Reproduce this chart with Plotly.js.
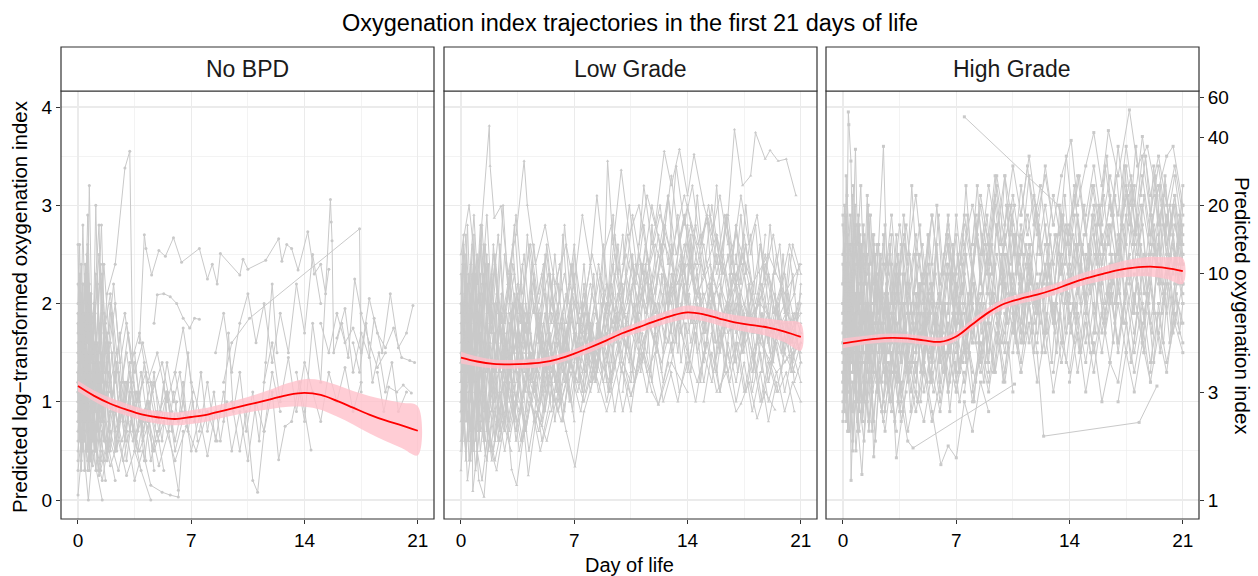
<!DOCTYPE html>
<html><head><meta charset="utf-8">
<script src="https://cdn.plot.ly/plotly-3.0.1.min.js"></script>
<style>html,body{margin:0;padding:0;background:#fff}#chart{width:1258px;height:576px}</style>
</head><body><div id="chart"></div>
<script>
const panelNames = ["No BPD", "Low Grade", "High Grade"];
const xTicks = [0, 7, 14, 21];
const yTicksLog = [0, 1, 2, 3, 4];
const yTicksOI = [1, 3, 10, 20, 40, 60];
const days = [0,1,2,3,4,5,6,7,8,9,10,11,12,13,14,15,16,17,18,19,20,21];

// fitted mean and confidence band (log-transformed OI)
const fitNoBPD = [1.16,1.06,0.98,0.92,0.87,0.84,0.825,0.845,0.87,0.91,0.95,0.99,1.03,1.07,1.09,1.07,1.01,0.94,0.87,0.81,0.76,0.705];
const loNoBPD  = [1.105,1.005,0.92,0.86,0.81,0.775,0.76,0.775,0.80,0.84,0.875,0.905,0.93,0.95,0.95,0.92,0.85,0.77,0.68,0.60,0.53,0.455];
const hiNoBPD  = [1.215,1.115,1.04,0.98,0.93,0.905,0.89,0.915,0.94,0.98,1.025,1.075,1.13,1.19,1.23,1.22,1.17,1.11,1.06,1.02,0.99,0.955];
const fitLow = [1.45,1.41,1.385,1.38,1.385,1.40,1.435,1.49,1.555,1.625,1.70,1.76,1.82,1.875,1.91,1.89,1.845,1.805,1.78,1.755,1.715,1.66];
const loLow  = [1.39,1.36,1.34,1.335,1.34,1.355,1.39,1.445,1.505,1.575,1.65,1.705,1.76,1.81,1.84,1.82,1.775,1.73,1.70,1.665,1.605,1.52];
const hiLow  = [1.51,1.46,1.43,1.425,1.43,1.445,1.48,1.535,1.605,1.675,1.75,1.815,1.88,1.94,1.98,1.96,1.915,1.88,1.86,1.845,1.825,1.80];
const fitHigh = [1.595,1.62,1.64,1.65,1.645,1.625,1.61,1.665,1.79,1.91,2.0,2.05,2.09,2.14,2.20,2.255,2.30,2.34,2.365,2.375,2.36,2.33];
const loHigh  = [1.545,1.575,1.595,1.605,1.60,1.58,1.565,1.62,1.74,1.86,1.95,2.0,2.035,2.085,2.14,2.19,2.23,2.26,2.275,2.275,2.25,2.20];
const hiHigh  = [1.645,1.665,1.685,1.695,1.69,1.67,1.655,1.71,1.84,1.96,2.05,2.10,2.145,2.195,2.26,2.32,2.37,2.42,2.455,2.475,2.47,2.46];

// individual trajectories: [day, value, day, value, ...]
const trajNoBPD = [
[0,1.3,0.25,2.0,0.5,1.1,0.7,3.2,0.9,1.5,1.2,2.2,1.5,1.0,1.8,1.4,2.2,0.8,2.6,1.1,3.0,0.6],
[0,0.9,0.2,1.6,0.4,0.7,0.6,2.6,0.8,1.2,1.0,0.5,1.3,0.9,1.6,0.4,2.0,0.7],
[0,2.6,0.15,1.4,0.3,2.2,0.5,0.9,0.75,1.8,1.0,1.1,1.4,2.4,1.7,1.3,2.1,1.9,2.5,1.0,3.0,1.5,3.5,0.9,4.0,1.2],
[0,0.5,0.3,1.0,0.6,0.3,0.9,0.8,1.2,0.4,1.5,0.2,1.9,0.6],
[0,1.8,0.2,1.0,0.45,2.4,0.7,1.6,1.0,2.0,1.3,2.8,1.5,1.4,1.8,2.1,2.3,2.4,2.9,3.38,3.2,3.55,3.4,1.2,3.8,0.8,4.3,1.0],
[0,1.1,0.25,0.6,0.5,1.3,0.75,0.4,1.0,0.9,1.25,0.3,1.5,0.7,2.0,0.35,2.5,0.6,3.0,0.25,3.5,0.5,4.5,0.0],
[0,0.05,0.3,0.6,0.64,0.0,0.9,0.5,1.5,0.0],
[3.8,1.6,4.1,2.7,4.2,2.56,4.55,2.29,5.0,2.54,5.4,2.48,5.9,2.67,6.4,2.42,7.5,2.56,8.0,2.25,8.3,2.4,8.6,2.2,8.8,2.51,10.0,2.29,10.2,2.45,10.5,2.35,11.6,2.44,12.4,2.66,12.6,2.43,12.9,2.6,13.2,2.56,13.6,2.34,14.2,2.73,14.6,2.3,15.0,2.4,15.3,2.1,15.5,2.35],
[9.0,1.2,9.5,1.6,10.6,1.85,17.4,2.76,17.5,1.1],
[13.5,1.3,14.0,0.8,14.5,1.8,15.0,1.2,15.6,3.06,15.65,2.83,15.7,2.64,15.8,1.5,16.3,1.8,16.7,1.45,17.1,2.25,17.5,1.9,18.0,1.6,18.5,1.35,19.0,1.5],
[15.0,1.8,15.5,1.5,16.0,1.9,16.5,1.6,17.0,1.75,17.5,1.5,18.0,2.05,18.5,1.7,19.0,1.55,19.5,1.75,20.0,1.45,20.5,1.42,20.8,1.4],
[16.0,1.65,16.5,1.95,17.0,1.3,17.5,1.7,18.0,1.45,18.3,1.85,18.8,1.5,19.3,2.1,19.8,1.55,20.3,1.7,20.7,1.98],
[18.5,1.3,18.9,0.9,19.2,1.15,19.7,1.1,20.1,1.17,20.6,1.09],
[9.5,1.0,10.0,0.5,10.4,0.9,10.8,0.2,11.1,0.08,11.5,0.7,12.0,1.1,12.4,0.41,12.8,0.75,13.2,0.8,13.7,1.2,14.0,0.9,14.4,0.51],
[0,1.5,0.2,0.8,0.4,1.9,0.6,1.2,0.8,2.1,1.0,0.7,1.2,1.6,1.4,1.0,1.7,1.8,2.0,1.2,2.4,1.5,2.8,0.9,3.2,1.3,3.7,0.7,4.3,1.0,5.0,0.6],
[0,1.0,0.2,1.7,0.4,1.2,0.6,2.3,0.8,0.9,1.0,1.4,1.3,0.6,1.6,1.1,1.9,0.5,2.3,0.9,2.8,0.4,3.3,0.8,3.9,0.3],
[0,2.2,0.3,1.6,0.6,2.0,0.9,1.3,1.1,3.0,1.3,1.5,1.6,2.4,1.9,1.7,2.2,2.2,2.6,1.4,3.0,1.8,3.5,1.3,4.0,1.6,4.6,1.1,5.2,1.4,5.8,0.9],
[0,0.7,0.25,1.2,0.5,0.5,0.8,1.0,1.1,0.3,1.4,0.8,1.8,0.5,2.2,1.0,2.7,0.6,3.2,0.9,3.8,0.5,4.4,0.8,5.0,0.35,5.6,0.7,6.2,0.1],
[0.5,1.2,0.8,2.0,1.1,1.4,1.45,2.8,1.6,1.9,1.9,1.5,2.3,2.0,2.7,1.2,3.1,1.7,3.6,1.0,4.2,1.3,4.8,0.8,5.5,1.1,6.0,0.5,6.6,0.9],
[0,1.2,0.3,0.9,0.6,1.5,0.9,0.6,1.2,1.2,1.5,0.8,1.9,1.3,2.3,0.7,2.8,1.0,3.4,0.6,4.0,0.9,4.7,0.5,5.3,0.8,6.0,0.4,6.7,0.75,7.3,0.5,8.0,0.9,8.6,0.6],
[1.0,1.8,1.3,2.5,1.6,1.7,2.0,2.1,2.4,1.5,2.9,1.9,3.3,1.4,3.8,1.7,4.3,1.2,4.9,1.5,5.5,1.0,6.0,1.3,6.5,1.75,7.0,1.2,7.5,0.9],
[4.7,1.8,4.9,2.09,5.3,2.1,5.7,2.07,6.1,2.0,6.5,1.85,6.9,1.75,7.2,1.85,7.5,1.84],
[7.5,0.7,8.0,1.2,8.5,0.6,9.0,1.1,9.5,0.5,10.0,0.9,10.5,0.4,11.0,1.0,11.5,0.7,12.0,1.3,12.5,0.9],
[8.5,1.5,9.0,1.9,9.5,1.3,10.0,1.8,10.5,2.1,11.0,1.6,11.5,2.0,12.0,1.4,12.5,1.9,13.0,1.5,13.5,2.2,14.0,1.7,14.5,2.5,15.0,2.0],
[2.0,0.6,2.5,0.3,3.0,0.7,3.5,0.2,4.0,0.5,4.5,0.15,5.2,0.08,5.7,0.05,6.2,0.03,6.5,0.7],
[3.0,0.9,3.5,1.4,4.0,0.8,4.5,1.2,5.0,0.7,5.5,1.1,6.0,0.6,6.5,1.0,7.0,0.5,7.5,0.85,8.0,0.45,8.5,0.9],
[0,1.4,0.2,2.1,0.35,1.1,0.55,2.5,0.75,1.3,1.0,1.9,1.25,1.2,1.5,2.3,1.75,1.5,2.0,2.0,2.3,1.3],
[0,0.8,0.15,1.3,0.3,0.6,0.5,1.1,0.7,0.3,0.9,0.9,1.15,0.5,1.4,1.0,1.7,0.6,2.0,0.9],
[0,1.7,0.2,2.4,0.4,1.5,0.6,2.9,0.75,1.9,0.9,1.4,1.1,2.3,1.4,1.6],
[0.1,1.0,0.3,2.8,0.5,1.5,0.7,2.2],
[11.5,1.2,12.0,1.6,12.5,1.0,13.0,1.45,13.5,0.9,14.0,1.4,14.5,1.1,15.0,0.8,15.5,1.3,16.0,1.0,16.5,1.35,17.0,0.9,17.5,1.2],
[17.0,1.6,17.4,1.3,17.8,1.8,18.2,1.2,18.6,1.5,19.0,1.1,19.4,1.4,19.8,0.9,20.3,1.1],
[9.0,0.8,9.3,1.7,9.6,0.9,10.0,1.3,10.4,0.7,10.8,1.1,11.2,0.6,11.6,1.4,12.0,2.2,12.3,1.5],
[6.0,1.3,6.4,0.9,6.8,1.5,7.2,0.8,7.6,1.3,8.0,0.7,8.4,1.1,8.8,0.6,9.2,1.0],
[0,0.3,0.3,0.8,0.6,0.4,1.0,0.7,1.4,0.3,1.8,0.6,2.3,0.2],
[0,1.0,0.05,1.6,0.1,0.7,0.15,1.3,0.2,0.5,0.3,1.1,0.4,0.6,0.5,1.5,0.6,0.9,0.7,1.4,0.8,0.6,0.95,1.1,1.1,0.7,1.25,1.2,1.4,0.8,1.6,1.3],
[0,1.9,0.05,1.2,0.1,2.3,0.2,1.4,0.3,2.0,0.4,1.0,0.5,1.7,0.65,1.2,0.8,1.9,0.95,1.3,1.1,1.7,1.3,0.9,1.5,1.4,1.7,1.0,1.9,1.5,2.1,1.1],
[0,0.6,0.1,1.2,0.2,0.4,0.3,0.9,0.4,0.3,0.55,0.8,0.7,0.5,0.85,1.1,1.0,0.6,1.2,0.9,1.4,0.5,1.6,0.8,1.8,0.4,2.0,0.7,2.3,0.5,2.6,0.9],
[0,1.3,0.05,0.8,0.1,1.7,0.2,1.1,0.3,1.5,0.4,0.8,0.5,1.3,0.6,0.7,0.7,1.2,0.85,0.9,1.0,1.6,1.15,1.0,1.3,1.4,1.5,0.9,1.7,1.2,1.9,0.8,2.2,1.1,2.5,0.7,2.8,1.0],
[0,2.0,0.1,2.6,0.2,1.7,0.3,2.2,0.4,1.5,0.5,2.4,0.6,1.8,0.75,2.1,0.9,1.5,1.05,2.0,1.2,1.4,1.4,1.8,1.6,1.3,1.8,1.7],
[0,0.4,0.1,0.9,0.2,0.3,0.3,0.7,0.45,1.0,0.6,0.5,0.75,0.8,0.9,0.35,1.1,0.6,1.3,0.25,1.5,0.5,1.7,0.2],
[0,1.6,0.1,1.0,0.2,1.9,0.3,1.3,0.4,1.7,0.55,1.1,0.7,1.6,0.85,1.0,1.0,1.4,1.2,0.9,1.4,1.3,1.6,0.8,1.8,1.2,2.0,0.9,2.3,1.3,2.6,0.8,2.9,1.2,3.2,0.7,3.5,1.1],
[0.5,0.9,0.7,1.5,0.9,1.0,1.1,1.6,1.3,1.1,1.5,1.9,1.7,1.2,1.9,1.6,2.1,1.0,2.4,1.4,2.7,0.9,3.0,1.2,3.3,0.8,3.6,1.1,4.0,0.7,4.4,1.0,4.8,0.6],
[1.5,1.1,1.8,0.6,2.1,1.0,2.4,0.5,2.7,0.9,3.0,0.4,3.3,0.8,3.7,0.5,4.1,0.9,4.5,0.4,4.9,0.7,5.3,0.3],
[2.0,1.6,2.3,1.2,2.6,1.7,2.9,1.0,3.2,1.4,3.5,0.9,3.9,1.3,4.3,0.8,4.7,1.2,5.1,0.9,5.5,1.4,5.9,1.0,6.3,1.3,6.7,0.8,7.1,1.1],
[0,1.1,0.05,1.8,0.1,1.2,0.15,2.0,0.25,1.3,0.35,1.8,0.45,1.0,0.6,1.4,0.75,0.8,0.9,1.3,1.05,0.9,1.2,1.5],
[0,0.8,0.05,1.4,0.1,0.6,0.2,1.0,0.3,0.5,0.4,1.2,0.5,0.7,0.6,1.0,0.75,0.4,0.9,0.8,1.05,0.5,1.2,0.9,1.4,0.6],
[1.0,1.3,1.2,0.7,1.4,1.2,1.6,0.6,1.8,1.1,2.0,0.5,2.2,0.9,2.4,0.6,2.7,1.2,3.0,0.7,3.3,1.1,3.6,0.6,3.9,0.9,4.2,0.4],
[0,1.2,0.1,2.0,0.2,1.4,0.3,1.8,0.4,1.1,0.5,1.6,0.6,1.0,0.7,1.7,0.8,1.2,0.9,1.5,1.0,0.8,1.15,1.3,1.3,0.9,1.45,1.5,1.6,1.1],
[2.5,1.3,2.8,0.8,3.1,1.2,3.4,0.7,3.7,1.1,4.0,0.6,4.3,1.0,4.6,0.5,4.9,0.9,5.2,0.6,5.5,1.1,5.8,0.7,6.1,1.0],
[0,0.9,0.1,1.5,0.2,0.8,0.3,1.2,0.4,0.6,0.5,1.0,0.6,0.5,0.7,0.9,0.8,0.4,0.95,0.8,1.1,0.5,1.25,0.9,1.4,0.4],
[0.3,1.7,0.45,2.3,0.6,1.6,0.75,2.0,0.9,1.4,1.05,1.9,1.2,1.3,1.35,1.7,1.5,1.2,1.7,1.6,1.9,1.1,2.1,1.5,2.3,1.0],
[3.5,1.5,3.8,1.0,4.1,1.4,4.4,0.9,4.7,1.3,5.0,0.8,5.3,1.2,5.6,0.7,5.9,1.1,6.2,0.8,6.5,1.2,6.8,0.7,7.1,1.0,7.4,0.6],
[0,1.5,0.05,2.2,0.1,1.3,0.15,1.9,0.2,1.0,0.3,1.6,0.4,1.2,0.5,2.0,0.6,1.3,0.7,1.8,0.8,1.1],
[1.5,0.8,1.7,1.3,1.9,0.7,2.1,1.1,2.3,0.5,2.6,1.0,2.9,0.6,3.2,1.1,3.5,0.5,3.8,0.9,4.1,0.4,4.4,0.8,4.7,0.3]
];

const trajLow = [
[0,2.5,0.5,3.0,1.0,2.2,1.75,3.81,1.8,3.4,2.06,2.87,2.47,2.99,2.9,2.3,3.4,2.7,3.9,3.45,4.1,3.0,4.6,2.4,5.2,2.8,5.8,2.2,6.5,2.6,7.2,2.0],
[0,1.2,0.3,2.0,0.6,1.0,0.9,1.8,1.2,0.7,1.5,1.5,1.9,0.9,2.3,1.6,2.8,1.1,3.3,1.7,3.8,1.0,4.4,1.5,5.0,1.2,5.6,1.9,6.3,1.4,7.0,2.0,7.8,1.6,8.6,2.3,9.4,1.8,10.2,2.5,11.0,2.0,12.0,2.6,13.0,2.1,14.0,2.4,15.0,1.9,16.0,2.2,17.0,1.7,18.5,2.0,20.0,1.6,21.0,1.9],
[0,0.6,0.25,1.3,0.5,0.4,0.8,1.0,1.1,0.2,1.42,0.03,1.7,0.6,2.2,0.3,2.8,0.9,3.13,0.31,3.44,0.15,3.9,0.7,4.16,0.25,4.7,0.9,5.3,0.6,6.0,1.1,6.5,0.7,7.04,0.34,7.6,0.9,8.3,1.3,9.0,0.9,9.8,1.4,10.5,1.06,11.3,1.5,12.2,0.97,13.0,1.4,14.0,1.1],
[0,1.8,0.3,1.1,0.6,2.4,0.9,1.5,1.3,2.8,1.6,1.9,2.0,2.5,2.5,1.6,3.0,2.3,3.5,1.4,4.0,2.0,4.6,1.3,5.2,1.9,5.8,1.2,6.5,1.7,7.2,1.1,8.0,1.6,8.8,1.2,9.6,1.9,10.4,1.4,11.2,2.1,12.0,1.6,13.0,2.2,14.0,1.7,15.0,2.3,16.0,1.8,17.0,2.2,18.0,1.5,19.0,1.9,20.0,1.4,21.0,1.7],
[0,1.4,0.2,0.8,0.5,1.6,0.8,0.5,1.1,1.2,1.5,0.6,1.9,1.3,2.4,0.7,2.9,1.2,3.5,0.8,4.1,1.3,4.8,0.9,5.5,1.4,6.2,1.0,7.0,1.5,7.7,1.1,8.5,1.7,9.3,1.3,10.1,1.9,11.0,1.5,12.0,2.0,12.8,1.6,13.6,2.2,14.5,1.8,15.5,2.3,16.5,1.7,17.5,2.0,18.5,1.6,19.5,1.3,20.5,1.5],
[11.0,2.6,11.5,3.1,12.0,2.8,12.56,3.55,13.0,3.2,13.5,3.57,14.0,3.1,14.4,3.52,15.0,3.0,15.5,2.7,16.0,3.1,16.5,2.6],
[16.5,2.9,16.9,3.77,17.4,3.2,17.9,3.3,18.2,3.74,18.8,3.47,19.1,3.56,19.6,3.45,20.1,3.47,20.7,3.1],
[0,1.0,0.3,1.7,0.6,1.2,0.9,2.2,1.2,1.4,1.5,2.6,1.8,1.6,2.2,2.1,2.6,1.3,3.0,1.9,3.5,1.2,4.0,1.8,4.5,1.1,5.0,1.6,5.6,0.9,6.2,1.5,6.8,1.0,7.5,1.7,8.2,1.3],
[0,2.0,0.4,1.5,0.7,2.6,1.0,1.8,1.4,2.3,1.8,1.4,2.2,2.0,2.7,1.5,3.2,2.4,3.7,1.8,4.2,2.6,4.8,1.9,5.4,2.3,6.0,1.7,6.7,2.2,7.4,1.8,8.1,2.5,8.8,2.0,9.06,3.45,9.4,2.6,9.9,3.36,10.4,2.7,11.0,3.0,11.6,2.4,12.3,2.9,13.0,2.5,13.8,3.1,14.6,2.6,15.4,2.9,16.2,2.3,17.0,2.7,18.0,2.2,19.0,2.5,20.0,2.1,21.0,2.4],
[0,0.9,0.3,0.5,0.6,1.1,0.9,0.3,1.2,0.8,1.6,0.4,2.0,1.0,2.4,0.6,2.9,1.1,3.4,0.7,4.0,1.2,4.6,0.8,5.3,1.3,6.0,0.9,6.8,1.4,7.6,1.0,8.4,1.5,9.2,1.2,10.0,1.7,10.8,1.3,11.6,1.8,12.4,1.4,13.2,1.9,14.0,1.5],
[0,1.6,0.3,2.3,0.6,1.3,0.9,2.0,1.2,1.0,1.6,1.8,2.0,1.2,2.5,1.9,3.0,1.3,3.5,2.1,4.0,1.5,4.5,2.2,5.0,1.4,5.6,2.0,6.2,1.5,6.8,2.4,7.4,1.7,8.0,2.2,8.7,1.6,9.4,2.1,10.1,1.7,10.8,2.4,11.5,1.9,12.2,2.7,12.9,2.0,13.6,2.5,14.3,1.8,15.0,2.1,15.8,1.6,16.6,2.0,17.4,1.5,18.2,1.9,19.0,1.4,19.8,1.8,20.6,1.3],
[0,1.3,0.2,0.9,0.4,1.9,0.6,0.7,0.8,1.5,1.0,0.5,1.3,1.3,1.6,0.8,2.0,1.4,2.4,0.9,2.8,1.6,3.3,1.1,3.8,0.6,4.3,1.0,4.9,0.5,5.5,0.9],
[0.5,2.2,0.8,2.9,1.1,2.0,1.4,2.6,1.7,1.9,2.1,2.4,2.5,1.7,3.0,2.2,3.4,2.9,3.8,2.1,4.3,2.6,4.8,2.0,5.3,2.5,5.8,1.8,6.4,2.3,7.0,1.7,7.6,2.1,8.2,1.5,8.8,2.0,9.5,1.4],
[6.0,1.0,6.6,1.5,7.2,1.2,7.8,1.8,8.4,1.3,9.0,2.0,9.6,1.6,10.2,2.3,10.8,1.8,11.4,2.6,12.0,2.1,12.6,2.8,13.2,2.3,13.8,2.9,14.4,2.2,15.0,2.6,15.6,2.0,16.2,2.5,16.8,1.9,17.4,2.4,18.0,1.8,18.6,2.2,19.2,1.7,19.8,2.1,20.4,1.6,21.0,2.0],
[8.0,1.2,8.6,1.7,9.2,1.1,9.8,1.6,10.5,1.06,11.2,1.5,11.8,1.1,12.2,0.97,12.8,1.4,13.4,1.0,14.0,1.5,14.6,1.2,15.2,1.6,15.8,1.1,16.4,1.3,17.0,0.9,17.3,0.98,17.8,1.2,18.3,0.83,18.8,1.1,19.4,0.92],
[0,1.5,0.3,1.1,0.6,1.8,0.9,1.2,1.2,2.1,1.5,1.3,1.9,1.9,2.3,1.0,2.8,1.6,3.3,0.9,3.8,1.5,4.4,1.0,5.0,1.7,5.6,1.2,6.2,1.8,6.9,1.3,7.6,2.0,8.3,1.5,9.0,2.2,9.8,1.7,10.6,2.4,11.4,1.9,12.2,2.5,13.0,2.0,13.8,2.6,14.6,2.1,15.4,2.4,16.2,1.9,17.0,2.3,17.8,1.8,18.6,2.1,19.4,1.6,20.2,1.9,21.0,1.5],
[0,1.1,0.4,1.6,0.8,0.9,1.2,1.4,1.6,0.7,2.0,1.2,2.5,0.8,3.0,1.3,3.6,0.9,4.2,1.5,4.8,1.0,5.4,1.6,6.0,1.2,6.7,1.9,7.4,1.4,8.1,2.1,8.8,1.6,9.5,2.3,10.2,1.8,11.0,2.5,11.8,2.0,12.6,2.6,13.4,2.2,14.2,2.8,15.0,2.3,15.8,2.7,16.6,2.1,17.4,2.5,18.2,1.9,19.0,2.3,19.8,1.8,20.6,2.1],
[0,0.3,0.2,0.9,0.4,0.2,0.7,0.6,0.73,0.09,1.0,0.5,1.3,0.2,1.7,0.7,2.1,0.4,2.6,0.8,3.1,0.5],
[1.5,0.9,2.0,0.5,2.5,1.0,3.0,0.6,3.5,1.1,4.0,0.7,4.5,1.2,5.0,0.8,5.5,1.3,6.0,0.9,6.5,1.4,7.0,0.8],
[0,2.3,0.2,1.6,0.4,2.8,0.6,1.9,0.8,2.5,1.0,1.5,1.3,2.2,1.6,2.9,1.9,2.0,2.3,2.7,2.7,1.8,3.1,2.3,3.6,1.6],
[9.0,1.9,9.5,2.5,10.0,2.0,10.6,2.9,11.2,2.3,11.8,3.0,12.4,2.5,13.0,3.3,13.5,2.6,14.0,3.0,14.6,2.4,15.2,2.9,15.8,2.3,16.4,2.8,17.0,2.2,17.6,2.6,18.2,2.0,18.8,2.5,19.4,1.9,20.0,2.3,20.6,1.8,21.0,2.1],
[10.0,1.3,10.5,0.9,11.0,1.5,11.5,1.1,12.0,1.7,12.5,1.2,13.0,1.6,13.5,1.1,14.0,1.4,14.5,1.0,15.0,1.5,15.5,1.2,16.0,1.7,16.5,1.3,17.0,1.6,17.5,1.1,18.0,1.5,18.5,1.0,19.0,1.4,19.5,1.1,20.0,1.5,20.5,1.3,21.0,1.6],
[12.0,2.0,12.5,1.5,13.0,2.3,13.5,1.8,14.0,2.6,14.5,2.0,15.0,1.7,15.5,2.2,16.0,1.5,16.5,2.0,17.0,1.4,17.5,1.9,18.0,1.3,18.5,1.8,19.0,1.2,19.5,1.6,20.0,1.1,20.5,1.5,21.0,1.2],
[0,1.9,0.3,2.7,0.6,1.7,0.9,2.3,1.2,1.6,1.5,2.4,1.8,1.7,2.1,2.5,2.5,1.8,2.9,2.2,3.3,1.5,3.8,2.0,4.3,1.4,4.8,1.9,5.3,1.3,5.9,1.8,6.5,1.2,7.1,1.7,7.7,1.3,8.3,1.9,9.0,1.5,9.7,2.1,10.4,1.7,11.1,2.2],
[0,1.2,0.5,1.9,1.0,1.1,1.5,1.7,2.0,1.0,2.5,1.5,3.0,0.8,3.5,1.3,4.0,0.7,4.5,1.2,5.0,0.6,5.6,1.1,6.2,0.8,6.8,1.3,7.4,0.9,8.0,1.5],
[0,0.8,0.3,1.4,0.6,0.7,0.9,1.2,1.2,0.5,1.5,1.0,1.9,0.4,2.3,0.9,2.7,0.5,3.2,1.0,3.7,0.6,4.2,1.1,4.8,0.7,5.4,1.2],
[13.0,1.4,13.5,1.9,14.0,1.3,14.5,1.8,15.0,1.2,15.5,1.7,16.0,1.1,16.5,1.5,17.0,1.0,17.5,1.4,18.0,0.9,18.5,1.3,19.0,0.8,19.5,1.2],
[14.0,2.2,14.5,2.8,15.0,2.3,15.5,3.0,16.0,2.4,16.5,2.9,17.0,2.2,17.5,2.7,18.0,2.1,18.5,2.6,19.0,2.0,19.5,2.5,20.0,1.9,20.5,2.6,21.0,2.3],
[3.0,1.6,3.5,2.2,4.0,1.5,4.5,2.0,5.0,1.5,5.5,2.3,6.0,1.7,6.5,2.1,7.0,1.4,7.5,1.9,8.0,1.3,8.5,1.8,9.0,1.2],
[0,1.7,0.2,1.2,0.4,2.0,0.6,1.4,0.8,1.9,1.0,1.2,1.2,1.7,1.5,1.1,1.8,1.6,2.1,1.0,2.5,1.5,2.9,1.1],
[0,1.4,0.15,2.6,0.3,1.2,0.5,1.8,0.7,1.0],
[5.0,1.1,5.5,1.6,6.0,1.1,6.5,1.7,7.0,1.2,7.5,1.6,8.0,1.1,8.5,1.5,9.0,1.0,9.5,1.4,10.0,0.9,10.5,1.3],
[16.0,2.0,16.5,2.5,17.0,1.8,17.5,2.3,18.0,1.7,18.5,2.2,19.0,1.6,19.5,2.0,20.0,1.5,20.5,1.9,21.0,1.4],
[2.0,1.3,2.4,1.8,2.8,1.2,3.2,2.0,3.6,1.4,4.0,1.9,4.4,1.3,4.8,1.8,5.2,1.1,5.7,1.5],
[0,1.2,0.1,1.9,0.2,0.9,0.35,1.6,0.5,1.1,0.6,2.1,0.75,1.3,0.9,1.7,1.05,0.8,1.2,1.5,1.4,1.2,1.6,2.0,1.8,1.0,2.0,1.4,2.3,0.9,2.5,1.7,2.8,1.2,3.0,1.5,3.3,0.8,3.6,1.3,3.9,1.8,4.2,1.1,4.5,1.5,4.9,1.0,5.2,1.6,5.6,1.3,6.0,1.9,6.4,1.2],
[0,1.5,0.15,0.9,0.3,1.3,0.45,0.6,0.6,1.2,0.8,1.8,1.0,1.0,1.2,1.3,1.4,0.7,1.7,1.4,1.9,1.1,2.2,1.9,2.4,1.3,2.7,1.6,3.0,1.0,3.4,1.4,3.7,2.2,4.0,1.5,4.4,1.2,4.8,1.9,5.1,1.4,5.5,2.3,5.9,1.6,6.3,1.3,6.8,2.0,7.2,1.5,7.7,1.9,8.1,1.4],
[0,2.0,0.1,1.3,0.25,2.4,0.4,1.6,0.55,2.0,0.7,1.1,0.85,1.7,1.0,2.5,1.2,1.8,1.4,2.2,1.6,1.4,1.85,2.0,2.1,1.6,2.4,2.6,2.7,1.9,3.0,2.2,3.3,1.5,3.7,2.0,4.0,1.7,4.4,2.4,4.8,1.6,5.2,2.1,5.6,1.5,6.0,1.9],
[0,0.9,0.2,1.4,0.35,0.8,0.5,1.0,0.7,0.5,0.9,1.2,1.1,0.7,1.3,1.0,1.5,0.45,1.8,0.9,2.1,0.6,2.4,1.1,2.7,0.7,3.0,1.2,3.4,0.6,3.8,1.0,4.2,0.5,4.6,0.9,5.0,0.75,5.5,1.2],
[0.2,1.3,0.4,2.2,0.6,1.5,0.8,2.7,1.0,1.6,1.3,2.0,1.6,1.3,1.9,2.3,2.2,1.5,2.5,1.9,2.9,1.2,3.3,2.1,3.7,1.6,4.1,2.7,4.5,1.9,5.0,2.3,5.5,1.6,6.0,2.0,6.5,1.4,7.0,2.5,7.5,1.9,8.0,2.4,8.5,1.8],
[6.5,1.6,7.0,2.3,7.4,1.5,7.9,1.9,8.3,1.2,8.8,2.1,9.2,1.7,9.7,2.6,10.1,1.9,10.6,2.2,11.0,1.6,11.5,2.5,12.0,1.9,12.5,2.3,13.0,1.7,13.5,2.7,14.0,2.1,14.5,2.4,15.0,1.8,15.5,2.2,16.0,1.5,16.5,1.9,17.0,2.5,17.5,1.7,18.0,2.1,18.5,1.6,19.0,2.3,19.5,1.8,20.0,2.0,20.5,1.4,21.0,1.8],
[7.0,2.2,7.5,2.9,8.0,2.4,8.4,3.1,8.8,2.5,9.3,2.8,9.8,2.1,10.3,2.7,10.8,2.2,11.3,3.2,11.8,2.6,12.3,3.0,12.8,2.4,13.3,3.4,13.8,2.8,14.3,3.2,14.8,2.6,15.3,3.0,15.8,2.4,16.3,2.9,16.8,2.5,17.3,3.1,17.8,2.6,18.3,2.9,18.8,2.3,19.3,2.7,19.8,2.2,20.3,2.6,20.8,2.3],
[8.0,1.8,8.4,1.3,8.9,1.9,9.3,1.4,9.8,2.1,10.2,1.5,10.7,2.0,11.1,1.3,11.6,1.8,12.1,1.5,12.6,2.2,13.1,1.6,13.6,2.0,14.1,1.4,14.6,1.9,15.1,1.5,15.6,2.1,16.1,1.6,16.6,2.0,17.1,1.3,17.6,1.8,18.1,1.4,18.6,1.9,19.1,1.5,19.6,2.0,20.1,1.6,20.6,1.9,21.0,1.7],
[10.0,2.4,10.4,3.0,10.9,2.3,11.3,2.8,11.8,2.1,12.3,2.6,12.8,3.1,13.3,2.5,13.8,2.9,14.3,2.3,14.8,2.7,15.3,2.0,15.8,2.5,16.3,1.9,16.8,2.3,17.3,1.8,17.8,2.2,18.3,1.7,18.8,2.4,19.3,1.9,19.8,2.2,20.3,1.6,20.8,2.0],
[9.0,1.4,9.4,2.0,9.8,1.5,10.3,1.9,10.7,1.2,11.2,1.7,11.7,1.3,12.2,2.0,12.6,1.6,13.1,2.3,13.6,1.7,14.1,2.1,14.6,1.5,15.1,1.8,15.6,1.3,16.1,1.7,16.6,1.2,17.1,1.6,17.6,1.1,18.1,1.5,18.6,1.0,19.1,1.4,19.6,1.1,20.1,1.3,20.6,0.9],
[3.5,1.0,3.9,1.6,4.3,1.2,4.7,1.9,5.1,1.3,5.5,1.7,5.9,1.1,6.3,1.6,6.7,1.0,7.1,1.5,7.5,1.1,7.9,1.7,8.3,1.2,8.7,1.6,9.1,1.1,9.5,1.8,9.9,1.3,10.3,1.6],
[0,1.0,0.1,0.6,0.2,1.4,0.3,0.8,0.45,1.1,0.6,0.4,0.75,0.9,0.9,0.6,1.1,1.3,1.3,0.8,1.5,1.1,1.7,0.5,2.0,0.9,2.3,0.6,2.6,1.2,2.9,0.8,3.2,1.1,3.6,0.5,4.0,0.8],
[0,1.7,0.1,2.4,0.2,1.5,0.3,2.0,0.45,1.2,0.6,1.8,0.75,2.3,0.9,1.4,1.05,1.9,1.2,1.3,1.35,2.1,1.5,1.6,1.7,2.4,1.9,1.7,2.1,2.0,2.3,1.4,2.6,1.8,2.9,1.3,3.2,2.0,3.5,1.5,3.9,1.9],
[4.0,1.4,4.4,2.1,4.8,1.6,5.2,2.5,5.6,1.8,6.0,2.2,6.4,1.6,6.8,2.0,7.2,1.4,7.6,2.2,8.0,1.6,8.5,2.4,9.0,1.9,9.5,2.7,10.0,2.1,10.5,2.5,11.0,1.8,11.5,2.3,12.0,1.7,12.5,2.1],
[11.0,1.9,11.4,2.4,11.8,1.8,12.2,2.3,12.6,1.9,13.0,2.6,13.4,2.0,13.8,2.4,14.2,1.8,14.6,2.3,15.0,1.7,15.4,2.2,15.8,1.8,16.2,2.4,16.6,1.9,17.0,2.2,17.4,1.6,17.8,2.0,18.2,1.5,18.6,1.9,19.0,1.6,19.4,2.1,19.8,1.7,20.2,1.9,20.6,1.5,21.0,1.6],
[13.0,2.0,13.4,1.5,13.8,2.2,14.2,1.6,14.6,2.0,15.0,1.4,15.4,1.9,15.8,1.3,16.2,1.8,16.6,1.4,17.0,2.0,17.4,1.5,17.8,1.9,18.2,1.3,18.6,1.7,19.0,1.2,19.4,1.6,19.8,1.3,20.2,1.8,20.6,1.2,21.0,1.4],
[1.0,2.2,1.2,2.8,1.4,2.1,1.6,2.5,1.8,1.8,2.0,2.6,2.3,2.0,2.6,3.0,2.9,2.2,3.2,2.6,3.5,1.9,3.8,2.4,4.1,1.8,4.5,2.3,4.9,1.7,5.3,2.6,5.7,2.0,6.1,2.4,6.5,1.8,7.0,2.2],
[7.5,1.0,8.0,1.6,8.5,1.1,9.0,1.5,9.5,0.9,10.0,1.4,10.5,1.2,11.0,1.8,11.5,1.3,12.0,1.5,12.5,1.0,13.0,1.3],
[0,1.3,0.3,1.7,0.5,1.2,0.7,1.9,0.9,1.4,1.1,1.8,1.3,1.1,1.5,1.6,1.8,1.2,2.1,1.7,2.4,1.3,2.8,1.9,3.1,1.4,3.5,1.7,3.9,1.2,4.3,1.6,4.7,1.3,5.1,1.8,5.5,1.4,6.0,1.6,6.5,1.2,7.0,1.7,7.5,1.3,8.0,1.8,8.5,1.5,9.0,2.0],
[15.0,1.0,15.5,1.5,16.0,1.1,16.5,1.6,17.0,1.2,17.5,1.7,18.0,1.1,18.5,1.5,19.0,1.0,19.5,1.3,20.0,0.9,20.5,1.2,21.0,1.0],
[0,1.4,0.1,2.1,0.2,1.6,0.3,2.5,0.45,1.5,0.6,1.9,0.75,1.2,0.9,2.0,1.05,1.5,1.2,2.3,1.4,1.4,1.6,1.8,1.8,1.1,2.0,1.7,2.2,1.3,2.5,2.1,2.8,1.4,3.1,1.9,3.4,1.3,3.7,1.6],
[0,1.1,0.1,0.7,0.2,1.5,0.3,1.0,0.45,1.8,0.6,1.2,0.75,0.6,0.9,1.1,1.05,0.7,1.2,1.6,1.35,0.9,1.5,1.3,1.7,0.8,1.9,1.2,2.1,0.6,2.4,1.1,2.7,0.8,3.0,1.4,3.3,0.9,3.6,1.2,3.9,0.7,4.2,1.0],
[2.5,1.1,2.8,1.7,3.1,1.3,3.4,2.0,3.7,1.4,4.0,1.1,4.3,1.7,4.6,1.2,4.9,1.9,5.2,1.5,5.5,1.0,5.8,1.6,6.1,1.1,6.4,1.8,6.7,1.3,7.0,1.7,7.3,1.2,7.6,1.9,7.9,1.5],
[4.5,0.8,4.8,1.3,5.1,0.9,5.4,1.5,5.7,1.0,6.0,1.4,6.3,0.8,6.6,1.2,6.9,0.9,7.2,1.5,7.5,1.1,7.8,1.6,8.1,1.2,8.4,1.8,8.7,1.3,9.0,1.7,9.3,1.2,9.6,1.9,9.9,1.4,10.2,1.8,10.5,1.3],
[8.5,2.0,8.8,2.6,9.1,2.1,9.4,2.9,9.7,2.3,10.0,2.7,10.3,2.0,10.6,2.5,10.9,1.9,11.2,2.4,11.5,2.0,11.8,2.8,12.1,2.2,12.4,2.6,12.7,2.0,13.0,2.5,13.3,1.9,13.6,2.4,13.9,2.0,14.2,2.7,14.5,2.1],
[11.5,1.5,11.8,2.1,12.1,1.6,12.4,2.3,12.7,1.8,13.0,2.2,13.3,1.6,13.6,2.4,13.9,1.9,14.2,2.6,14.5,2.0,14.8,2.4,15.1,1.7,15.4,2.2,15.7,1.6,16.0,2.1,16.3,1.7,16.6,2.3,16.9,1.8,17.2,2.1,17.5,1.5],
[14.5,1.6,14.8,2.1,15.1,1.5,15.4,2.0,15.7,1.4,16.0,1.9,16.3,1.3,16.6,1.8,16.9,1.4,17.2,2.0,17.5,1.6,17.8,2.2,18.1,1.7,18.4,2.1,18.7,1.5,19.0,2.0,19.3,1.4,19.6,1.9,19.9,1.5,20.2,2.1,20.5,1.6,20.8,1.9],
[17.0,2.4,17.3,2.9,17.6,2.3,17.9,2.7,18.2,2.1,18.5,2.6,18.8,2.2,19.1,2.8,19.4,2.3,19.7,2.6,20.0,2.0,20.3,2.5,20.6,2.1,20.9,2.4],
[0,0.5,0.15,1.0,0.3,0.4,0.45,0.9,0.6,0.6,0.8,1.3,1.0,0.8,1.2,1.1,1.4,0.6,1.6,1.0,1.85,0.5,2.1,0.9,2.4,0.7,2.7,1.2,3.0,0.7,3.3,1.0],
[0,2.1,0.15,2.7,0.3,1.8,0.45,2.3,0.6,1.7,0.8,2.4,1.0,1.9,1.2,2.6,1.4,2.0,1.65,2.4,1.9,1.8,2.15,2.3,2.4,1.7,2.7,2.5,3.0,2.0,3.3,2.3],
[5.5,1.9,5.8,2.5,6.1,2.0,6.4,2.8,6.7,2.2,7.0,2.6,7.3,1.9,7.6,2.4,7.9,1.8,8.2,2.3,8.5,1.7,8.8,2.5,9.1,2.0,9.4,2.4,9.7,1.8,10.0,2.2],
[10.0,1.1,10.3,1.7,10.6,1.3,10.9,1.9,11.2,1.4,11.5,1.8,11.8,1.2,12.1,1.6,12.4,1.3,12.7,1.9,13.0,1.5,13.3,2.0,13.6,1.4,13.9,1.8,14.2,1.3,14.5,1.7,14.8,1.2,15.1,1.6],
[12.5,2.6,12.8,3.1,13.1,2.5,13.4,2.9,13.7,2.3,14.0,2.8,14.3,2.4,14.6,3.1,14.9,2.6,15.2,2.9,15.5,2.2,15.8,2.7,16.1,2.3,16.4,2.9,16.7,2.4,17.0,2.8,17.3,2.2,17.6,2.6],
[18.0,1.2,18.3,1.7,18.6,1.3,18.9,1.8,19.2,1.4,19.5,2.0,19.8,1.5,20.1,1.8,20.4,1.3,20.7,1.7,21.0,1.4],
[0.5,1.6,0.7,2.3,0.9,1.7,1.1,2.1,1.3,1.5,1.5,2.2,1.7,1.6,1.9,2.0,2.1,1.4,2.4,1.9,2.7,1.3,3.0,1.8,3.3,1.2,3.6,1.7,3.9,1.3,4.2,1.9,4.5,1.4,4.8,1.8,5.1,1.2,5.4,1.7,5.7,1.3,6.0,1.8],
[6.0,1.3,6.3,1.9,6.6,1.4,6.9,2.1,7.2,1.6,7.5,2.0,7.8,1.4,8.1,1.8,8.4,1.3,8.7,2.0,9.0,1.6,9.3,2.2,9.6,1.7,9.9,2.0,10.2,1.5,10.5,2.1,10.8,1.7,11.1,2.4,11.4,1.8,11.7,2.2],
[15.5,2.6,15.8,3.2,16.1,2.5,16.4,2.9,16.7,2.3,17.0,2.8,17.3,2.4,17.6,3.0,17.9,2.5,18.2,2.8,18.5,2.2,18.8,2.7],
[19.0,1.7,19.3,2.3,19.6,1.8,19.9,2.5,20.2,1.9,20.5,2.3,20.8,1.8,21.0,2.2],
[1.0,1.0,1.3,1.5,1.6,0.9,1.9,1.4,2.2,0.8,2.5,1.3,2.8,0.9,3.1,1.5,3.4,1.0,3.7,1.4,4.0,0.9,4.3,1.5,4.6,1.1,4.9,1.4,5.2,0.9,5.5,1.3,5.8,0.8,6.1,1.2,6.4,0.9,6.7,1.4],
[3.0,2.2,3.3,2.8,3.6,2.1,3.9,2.5,4.2,1.9,4.5,2.6,4.8,2.1,5.1,2.4,5.4,1.8,5.7,2.3,6.0,1.9,6.3,2.7,6.6,2.0,6.9,2.4,7.2,1.8]
];

const trajHigh = [
[0,2.8,0.2,1.9,0.33,3.95,0.36,3.82,0.49,3.45,0.6,2.5,0.77,3.57,0.9,2.6,1.1,3.2,1.3,2.2,1.6,2.9,1.9,2.0,2.2,2.6,2.5,3.6,2.7,2.4,3.0,2.9,3.4,2.1,3.8,2.7,4.2,1.9,4.7,2.5,5.2,1.8,5.7,2.3,6.2,1.7],
[0,1.6,0.2,1.0,0.4,2.1,0.5,0.2,0.7,1.3,0.9,0.8,1.17,0.26,1.4,1.0,1.7,1.5,1.9,0.44,2.2,1.1,2.6,0.7,3.0,1.3,3.3,0.43,3.7,0.9,4.0,0.6,4.33,0.53,10.6,1.18],
[5.0,1.4,5.5,0.9,6.05,0.36,6.5,0.55,7.0,0.43,7.5,1.0,8.0,0.7,8.5,1.2,9.0,0.9],
[7.5,3.9,13.3,3.0,13.8,2.6,14.3,3.1,14.8,2.5],
[0,1.2,0.25,2.0,0.5,1.4,0.75,2.4,1.0,1.6,1.25,2.2,1.5,1.3,1.8,1.9,2.1,1.2,2.4,1.8,2.8,1.1,3.2,1.7,3.6,1.0,4.0,1.6,4.5,1.2,5.0,1.9,5.5,1.4,6.0,2.1,6.5,1.5,7.0,2.2,7.5,1.7,8.0,2.4,8.5,1.9,9.0,2.6,9.5,2.0,10.0,2.7,10.5,2.1,11.0,2.8,11.5,2.3,12.0,2.9,12.6,2.2,13.2,2.7,13.8,2.1,14.4,2.6,15.0,2.0,15.6,2.5,16.2,1.9,16.8,2.4,17.4,1.8,18.0,2.3,18.6,1.9,19.2,2.5,19.8,2.0,20.4,2.6,21.0,2.2],
[0,0.9,0.2,1.5,0.4,0.7,0.6,1.2,0.8,0.5,1.0,1.0,1.3,0.6,1.6,1.3,1.9,0.8,2.2,1.4,2.6,0.9,3.0,1.5,3.4,1.0,3.8,1.6,4.2,1.1,4.7,1.7,5.2,1.2,5.7,1.8,6.2,1.3,6.8,1.9,7.4,1.4,8.0,2.0,8.6,1.5,9.2,2.1,9.8,1.6,10.4,2.2,11.0,1.7,11.6,2.3,12.2,1.8,12.8,2.4],
[0,2.2,0.2,2.9,0.4,1.8,0.6,2.6,0.8,1.9,1.0,2.8,1.2,2.0,1.5,2.5,1.8,1.7,2.1,2.3,2.4,1.6,2.8,2.4,3.2,1.8,3.6,2.6,4.0,1.9,4.4,2.5,4.9,1.7,5.4,2.2,5.9,1.6,6.4,2.4,6.9,1.9,7.4,2.7,7.9,2.1,8.4,2.9,8.9,2.3,9.4,3.1,9.9,2.5,10.4,3.0,10.9,2.4,11.4,2.9,12.0,2.3],
[0,1.5,0.3,1.1,0.6,1.8,0.9,1.3,1.2,2.0,1.5,1.4,1.8,1.9,2.1,1.1,2.5,1.6,2.9,1.0,3.3,1.5,3.7,0.9,4.1,1.4,4.6,1.0,5.1,1.6,5.6,1.1,6.1,1.7,6.6,1.2,7.1,1.9,7.6,1.5,8.1,2.2,8.6,1.7,9.1,2.3,9.6,1.8,10.1,2.5,10.7,1.9,11.3,2.4,11.9,1.8,12.5,2.3,13.1,1.7,13.7,2.2,14.3,1.6,14.9,2.1,15.5,1.5,16.1,2.0],
[0,1.9,0.3,2.5,0.6,1.5,0.9,2.2,1.2,1.4,1.5,2.0,1.8,1.2,2.2,1.8,2.6,1.3,3.0,2.1,3.4,1.5,3.8,2.3,4.3,1.6,4.8,2.2,5.3,1.5,5.8,2.0,6.3,1.3,6.8,1.9],
[0,1.3,0.2,0.8,0.4,1.6,0.6,0.6,0.8,1.1,1.0,0.7,1.3,1.2,1.6,0.8,2.0,1.3,2.4,0.9,2.8,1.4,3.2,0.8,3.6,1.2,4.0,0.7,4.5,1.1,5.0,0.8,5.5,1.3,6.0,0.9,6.5,1.5,7.0,1.1,7.6,1.7,8.2,1.2,8.8,1.8,9.4,1.3,10.0,1.9],
[0,2.5,0.25,3.1,0.5,2.2,0.75,2.8,1.0,2.0,1.3,2.7,1.6,1.9,1.9,2.5,2.2,1.8,2.6,2.4,3.0,1.7,3.4,2.3,3.9,2.8,4.4,2.1,4.9,2.6,5.4,1.9],
[1.0,1.7,1.4,2.3,1.8,1.5,2.2,2.1,2.6,1.4,3.0,1.9,3.4,1.2,3.8,1.8,4.2,1.3,4.6,1.9,5.0,1.4,5.5,2.0,6.0,1.4,6.5,1.8,7.0,1.2,7.5,1.7,8.0,1.3],
[6.0,2.0,6.5,2.6,7.0,2.1,7.5,2.8,8.0,2.3,8.5,3.0,9.0,2.4,9.5,3.2,10.0,2.6,10.5,3.1,11.0,2.5,11.5,3.3,12.0,2.7,12.5,3.4,13.0,2.8,13.5,3.3,14.1,3.66,14.5,3.0,15.0,3.4,15.5,3.74,16.0,3.2,16.4,3.76,17.0,3.3,17.7,3.97,18.2,3.4,18.8,3.6,19.4,3.1,20.0,3.5,20.4,3.6,21.0,3.0],
[7.0,1.5,7.5,2.0,8.0,1.6,8.5,2.3,9.0,1.8,9.5,2.5,10.0,2.0,10.5,2.7,11.0,2.1,11.5,2.6,12.0,2.0,12.5,2.6,13.0,2.1,13.5,2.8,14.0,2.2,14.5,2.9,15.0,2.3,15.5,3.0,16.0,2.4,16.5,3.1,17.0,2.5,17.5,3.2,18.0,2.6,18.5,3.3,19.0,2.7,19.5,3.2,20.0,2.6,20.5,3.1,21.0,2.5],
[8.0,1.1,8.5,1.6,9.0,1.2,9.5,1.8,10.0,1.3,10.5,1.9,11.0,1.4,11.5,2.0,12.0,1.5,12.4,0.65,18.3,0.79,19.4,1.16],
[10.0,1.7,10.5,2.3,11.0,1.8,11.5,2.5,12.0,1.9,12.5,2.4,13.0,1.8,13.5,2.5,14.0,2.0,14.5,2.6,15.0,2.1,15.5,2.7,16.0,2.2,16.5,2.8,17.0,2.3,17.5,2.9,18.0,2.4,18.5,3.0,19.0,2.5,19.5,2.9,20.0,2.3,20.5,2.8,21.0,2.4],
[11.0,1.3,11.5,1.8,12.0,1.2,12.5,1.7,13.0,1.1,13.5,1.6,14.0,1.3,14.5,1.9,15.0,1.4,15.5,2.0,16.0,1.5,16.5,2.1,17.0,1.6,17.5,2.2,18.0,1.7,18.5,2.3,19.0,1.8,19.5,2.4,20.0,1.9,20.5,2.5,21.0,2.0],
[12.0,2.5,12.5,3.0,13.0,2.4,13.5,2.9,14.0,2.6,14.5,3.3,15.0,2.7,15.5,3.2,16.0,2.6,16.5,3.0,17.0,2.5,17.5,3.1,18.0,2.7,18.5,3.5,19.0,2.9,19.5,3.4,20.0,2.8,20.5,3.3,21.0,2.7],
[9.0,2.1,9.5,1.6,10.0,2.2,10.5,1.7,11.0,2.3,11.5,1.6,12.0,2.2,12.5,1.5,13.0,2.0,13.5,1.4,14.0,1.9,14.5,1.3,15.0,1.8,15.5,1.3,16.0,1.9,16.5,1.4,17.0,2.0,17.5,1.5,18.0,2.1,18.5,1.6,19.0,2.2,19.5,1.7,20.0,2.3,20.5,1.8,21.0,2.2],
[0,1.0,0.3,1.7,0.6,0.9,0.9,1.5,1.2,0.8,1.5,1.4,1.8,0.7,2.1,1.2,2.5,0.8,2.9,1.3,3.3,0.7],
[0,1.8,0.15,2.4,0.3,1.5,0.45,2.2,0.6,1.3,0.8,1.9,1.0,1.2,1.2,1.8,1.4,1.1],
[2.0,2.0,2.5,2.6,3.0,2.0,3.5,2.8,4.0,2.1,4.5,2.7,5.0,2.0,5.5,2.9,6.0,2.2,6.5,2.7,7.0,2.0,7.5,2.6,8.0,3.0,8.5,2.5,9.0,3.2,9.5,2.7,10.0,3.3,10.5,2.8],
[3.0,1.4,3.5,1.9,4.0,1.2,4.5,1.8,5.0,1.1,5.5,1.6,6.0,1.0,6.5,1.5,7.0,1.1,7.5,1.6,8.0,1.0,8.5,1.5,9.0,1.1,9.5,1.7,10.0,1.2,10.5,1.8,11.0,1.3],
[13.0,1.9,13.5,2.4,14.0,1.8,14.5,2.2,15.0,1.6,15.5,2.3,16.0,1.7,16.5,2.2,17.0,1.6,17.5,2.1,18.0,1.5,18.5,2.0,19.0,1.4,19.5,1.9,20.0,1.4,20.5,1.8,21.0,1.5],
[15.0,2.9,15.5,3.4,16.0,2.8,16.5,3.3,17.0,2.9,17.5,3.6,18.0,3.0,18.5,3.7,19.0,3.1,19.5,3.5,20.0,3.0,20.5,3.4,21.0,2.9],
[0,1.4,0.2,1.9,0.4,1.2,0.6,1.7,0.8,1.0,1.0,1.6,1.2,1.0,1.5,1.7,1.8,1.1,2.1,1.8,2.4,1.2,2.8,1.9,3.2,1.3,3.6,2.0,4.0,1.4,4.5,2.1,5.0,1.5,5.5,2.2,6.0,1.6,6.5,2.3,7.0,1.7],
[4.0,2.5,4.5,3.1,5.0,2.3,5.5,2.9,6.0,2.2,6.5,2.8,7.0,2.3,7.5,2.9,8.0,2.4,8.5,3.1,9.0,2.6,9.5,3.3,10.0,2.8,10.5,3.4,11.0,2.9,11.5,3.5,12.0,2.9,12.5,3.3,13.0,2.8],
[0,2.0,0.3,1.4,0.6,2.3,0.9,1.6,1.2,2.1,1.5,1.5,1.8,2.2,2.1,1.6,2.4,2.1,2.8,1.5,3.2,2.0,3.6,1.4,4.0,1.9,4.5,1.3,5.0,1.8,5.5,1.2,6.0,1.7,6.5,1.1,7.0,1.6,7.5,1.2,8.0,1.8,8.5,1.3,9.0,1.9],
[17.0,1.0,17.5,1.5,18.0,1.1,18.5,1.6,19.0,1.2,19.5,1.7,20.0,1.3,20.5,1.9,21.0,1.6],
[14.0,1.2,14.5,1.7,15.0,1.1,15.5,1.6,16.0,1.0,16.5,1.4,17.0,1.2,17.5,1.8,18.0,1.3,18.5,1.8,19.0,1.2],
[5.0,1.6,5.5,2.1,6.0,1.7,6.5,2.4,7.0,1.8,7.5,2.3,8.0,1.7,8.5,2.1,9.0,1.5,9.5,2.0,10.0,1.5,10.5,2.1,11.0,1.6,11.5,2.2,12.0,1.7],
[0,1.7,0.2,2.3,0.4,1.6,0.6,2.0,0.8,1.4,1.0,2.1,1.2,1.5,1.4,1.9],
[18.0,2.0,18.4,2.6,18.8,2.1,19.2,2.8,19.6,2.2,20.0,2.9,20.4,2.3,20.8,2.7,21.0,2.4],
[1.5,1.0,2.0,1.6,2.5,1.0,3.0,1.5,3.5,0.9,4.0,1.4,4.5,0.9,5.0,1.3,5.5,0.8,6.0,1.2],
[0,1.6,0.1,2.3,0.2,1.4,0.3,2.0,0.4,1.1,0.5,1.8,0.6,2.5,0.7,1.6,0.8,2.1,0.9,1.3,1.0,1.9,1.15,2.6,1.3,1.7,1.45,2.2,1.6,1.4,1.75,2.0,1.9,2.7,2.05,1.8,2.2,2.3,2.4,1.5,2.6,2.1,2.8,1.6,3.0,2.4,3.2,1.7,3.4,2.2,3.6,1.5,3.8,2.0],
[0,1.1,0.1,1.8,0.2,1.3,0.3,2.2,0.4,1.5,0.55,1.9,0.7,1.2,0.85,1.7,1.0,1.0,1.15,1.5,1.3,1.2,1.5,2.0,1.7,1.4,1.9,1.8,2.1,1.1,2.3,1.6,2.5,1.3,2.7,2.1,2.9,1.5,3.1,1.9,3.3,1.2,3.6,1.7,3.9,1.3,4.2,2.0,4.5,1.5,4.8,1.9],
[0,2.4,0.1,1.7,0.2,2.9,0.3,2.0,0.45,2.6,0.6,1.9,0.75,3.0,0.9,2.2,1.05,2.7,1.2,1.8,1.35,2.4,1.5,3.1,1.7,2.1,1.9,2.6,2.1,1.9,2.3,2.5,2.5,1.8,2.7,2.3,2.9,1.6,3.1,2.2,3.3,2.7,3.5,2.0],
[0,0.8,0.15,1.3,0.3,0.7,0.45,1.2,0.6,0.9,0.75,1.5,0.9,1.0,1.05,1.4,1.2,0.8,1.4,1.2,1.6,0.7,1.8,1.1,2.0,0.6,2.2,1.2,2.4,0.9,2.7,1.4,3.0,0.9,3.3,1.3,3.6,0.8,3.9,1.1],
[1.0,1.4,1.2,2.0,1.4,1.6,1.6,2.4,1.8,1.7,2.0,2.2,2.2,1.5,2.4,2.0,2.6,1.4,2.8,1.9,3.0,1.3,3.3,1.8,3.6,1.4,3.9,2.2,4.2,1.6,4.5,2.0,4.8,1.3,5.1,1.7,5.4,1.2,5.7,1.8,6.0,1.4,6.3,2.0,6.6,1.5,6.9,1.9,7.2,1.3],
[2.0,1.8,2.3,2.4,2.6,1.9,2.9,2.6,3.2,2.0,3.5,2.3,3.8,1.7,4.1,2.5,4.4,1.9,4.7,2.2,5.0,1.6,5.3,2.4,5.6,1.8,5.9,2.1,6.2,1.5,6.5,2.0,6.8,2.6,7.1,1.9,7.4,2.4,7.7,1.8,8.0,2.2],
[3.0,1.0,3.3,1.6,3.6,1.1,3.9,1.5,4.2,0.9,4.5,1.4,4.8,1.0,5.1,1.7,5.4,1.2,5.7,1.6,6.0,1.1,6.3,1.5,6.6,0.9,6.9,1.4,7.2,1.0,7.5,1.3],
[4.0,1.9,4.3,1.4,4.6,2.1,4.9,1.6,5.2,2.3,5.5,1.7,5.8,2.6,6.1,1.9,6.4,2.3,6.7,1.6,7.0,2.2,7.3,1.8,7.6,2.5,7.9,2.0,8.2,2.8,8.5,2.2,8.8,2.6,9.1,2.0,9.4,2.4,9.7,1.9,10.0,2.5,10.3,2.0,10.6,2.7,10.9,2.2,11.2,2.5],
[7.0,1.3,7.3,1.9,7.6,1.4,7.9,2.1,8.2,1.6,8.5,2.0,8.8,1.4,9.1,1.8,9.4,1.3,9.7,1.9,10.0,1.6,10.3,2.3,10.6,1.7,10.9,2.2,11.2,1.6,11.5,2.0,11.8,1.5,12.1,2.1,12.4,1.7,12.7,2.4,13.0,1.8,13.3,2.2,13.6,1.6,13.9,2.1],
[8.0,2.6,8.3,3.2,8.6,2.5,8.9,2.9,9.2,2.3,9.5,2.8,9.8,2.2,10.1,3.0,10.4,2.4,10.7,2.7,11.0,2.1,11.3,2.6,11.6,2.2,11.9,3.0,12.2,2.5,12.5,2.8,12.8,2.2,13.1,2.7,13.4,2.3,13.7,3.1,14.0,2.5,14.3,2.9,14.6,2.3,14.9,2.7],
[10.0,2.2,10.3,2.7,10.6,2.1,10.9,2.5,11.2,1.9,11.5,2.4,11.8,2.0,12.1,2.8,12.4,2.2,12.7,2.6,13.0,2.1,13.3,2.5,13.6,2.9,13.9,2.3,14.2,2.7,14.5,2.1,14.8,2.6,15.1,2.2,15.4,2.9,15.7,2.4,16.0,2.7,16.3,2.1,16.6,2.5,16.9,2.0,17.2,2.4],
[12.0,1.6,12.3,2.2,12.6,1.7,12.9,2.0,13.2,1.5,13.5,2.1,13.8,1.7,14.1,2.3,14.4,1.8,14.7,2.4,15.0,1.9,15.3,2.2,15.6,1.7,15.9,2.5,16.2,2.0,16.5,2.3,16.8,1.8,17.1,2.6,17.4,2.0,17.7,2.4,18.0,1.9,18.3,2.7,18.6,2.1,18.9,2.5,19.2,2.0,19.5,2.6,19.8,2.1,20.1,2.4,20.4,1.9,20.7,2.3,21.0,2.1],
[14.0,2.7,14.3,3.2,14.6,2.6,14.9,3.0,15.2,2.4,15.5,2.9,15.8,2.5,16.1,3.1,16.4,2.6,16.7,2.9,17.0,2.3,17.3,2.8,17.6,2.4,17.9,3.0,18.2,2.5,18.5,2.8,18.8,2.3,19.1,2.9,19.4,2.4,19.7,3.0,20.0,2.5,20.3,2.9,20.6,2.4,20.9,2.8],
[15.0,2.0,15.3,2.5,15.6,1.9,15.9,2.3,16.2,1.8,16.5,2.4,16.8,2.0,17.1,2.7,17.4,2.1,17.7,2.5,18.0,2.0,18.3,2.4,18.6,1.8,18.9,2.3,19.2,1.9,19.5,2.7,19.8,2.2,20.1,2.5,20.4,2.0,20.7,2.6,21.0,2.2],
[16.0,3.0,16.3,3.5,16.6,2.9,16.9,3.3,17.2,2.8,17.5,3.4,17.8,3.0,18.1,3.6,18.4,3.1,18.7,3.5,19.0,2.9,19.3,3.3,19.6,2.8,19.9,3.2,20.2,2.7,20.5,3.1,20.8,2.6,21.0,3.0],
[11.0,2.9,11.4,3.4,11.8,2.8,12.2,3.2,12.6,2.6,13.0,3.1,13.4,2.7,13.8,3.5,14.2,2.9,14.6,3.3,15.0,2.7,15.4,3.2,15.8,2.8,16.2,3.4,16.6,2.9,17.0,3.6,17.4,3.0,17.8,3.3,18.2,2.8],
[0,2.0,0.1,2.6,0.2,1.9,0.35,2.4,0.5,1.7,0.65,2.3,0.8,1.9,0.95,2.8,1.1,2.1,1.25,2.5,1.4,1.8,1.6,2.3,1.8,1.7,2.0,2.5,2.2,1.9,2.5,2.4],
[0,1.3,0.1,0.9,0.2,1.5,0.3,0.7,0.45,1.1,0.6,0.5,0.75,1.0,0.9,0.7,1.05,1.3,1.2,0.9,1.4,1.4,1.6,0.8,1.8,1.2],
[5.0,2.0,5.3,2.7,5.6,2.2,5.9,2.9,6.2,2.3,6.5,2.6,6.8,2.0,7.1,2.5,7.4,2.1,7.7,2.9,8.0,2.3,8.3,2.7,8.6,2.1,8.9,2.5,9.2,2.0,9.5,2.8,9.8,2.3],
[6.0,1.4,6.3,2.0,6.6,1.5,6.9,1.8,7.2,1.3,7.5,1.9,7.8,1.5,8.1,2.2,8.4,1.6,8.7,2.0,9.0,1.4,9.3,2.1,9.6,1.7,9.9,2.3,10.2,1.8,10.5,2.1,10.8,1.5,11.1,2.0],
[18.0,1.6,18.3,2.1,18.6,1.5,18.9,1.9,19.2,1.4,19.5,2.0,19.8,1.6,20.1,2.2,20.4,1.7,20.7,2.0,21.0,1.8],
[9.0,2.7,9.4,3.3,9.8,2.6,10.2,3.0,10.6,2.5,11.0,3.2,11.4,2.7,11.8,3.1,12.2,2.5],
[13.0,1.3,13.4,1.9,13.8,1.4,14.2,2.0,14.6,1.5,15.0,2.1,15.4,1.6,15.8,2.2,16.2,1.7,16.6,2.1,17.0,1.5,17.4,2.0,17.8,1.4,18.2,1.9,18.6,1.5],
[19.0,2.6,19.3,3.1,19.6,2.5,19.9,3.3,20.2,2.7,20.5,3.0,20.8,2.4,21.0,2.8],
[0,2.9,0.1,2.2,0.2,3.3,0.3,2.4,0.45,2.9,0.6,2.1,0.75,2.6,0.9,1.9,1.05,2.4,1.2,1.7],
[0,1.5,0.1,2.2,0.2,1.7,0.3,2.6,0.4,1.9,0.5,2.3,0.6,1.6,0.7,2.1,0.8,1.5,0.9,2.4,1.0,1.8,1.1,2.2,1.25,1.5,1.4,2.0,1.55,1.4,1.7,2.1,1.85,1.6,2.0,2.3,2.2,1.7,2.4,2.2,2.6,1.5,2.8,2.0],
[0,1.2,0.1,1.7,0.2,1.0,0.3,1.6,0.4,1.2,0.5,1.9,0.6,1.3,0.7,1.7,0.8,1.1,0.9,1.5,1.0,0.9,1.15,1.4,1.3,1.0,1.45,1.6,1.6,1.2,1.75,1.8,1.9,1.3,2.05,1.7,2.2,1.1,2.4,1.6,2.6,1.2,2.8,1.7,3.0,1.3],
[0.5,2.6,0.65,3.2,0.8,2.5,0.95,2.9,1.1,2.3,1.25,2.8,1.4,2.2,1.55,3.0,1.7,2.4,1.85,2.7,2.0,2.1,2.2,2.6,2.4,2.0,2.6,2.8,2.8,2.3,3.0,2.7,3.2,2.1,3.4,2.5,3.6,2.0,3.8,2.6,4.0,2.2],
[2.5,1.5,2.75,2.1,3.0,1.6,3.25,2.3,3.5,1.7,3.75,2.0,4.0,1.4,4.25,1.9,4.5,1.5,4.75,2.2,5.0,1.7,5.25,2.1,5.5,1.5,5.75,1.9,6.0,1.4,6.25,2.0,6.5,1.6,6.75,2.3,7.0,1.7,7.25,2.0,7.5,1.5],
[3.5,2.3,3.75,2.9,4.0,2.4,4.25,3.2,4.5,2.5,4.75,2.8,5.0,2.2,5.25,2.7,5.5,2.1,5.75,2.6,6.0,2.0,6.25,2.5,6.5,2.9,6.75,2.3,7.0,2.7,7.25,2.1,7.5,2.5],
[4.5,1.1,4.75,1.7,5.0,1.3,5.25,1.9,5.5,1.4,5.75,1.8,6.0,1.2,6.25,1.6,6.5,1.1,6.75,1.7,7.0,1.3,7.25,1.9,7.5,1.5,7.75,2.1,8.0,1.6,8.25,2.0,8.5,1.4,8.75,1.8,9.0,1.3],
[6.5,1.9,6.8,2.5,7.1,1.8,7.4,2.2,7.7,1.7,8.0,2.4,8.3,1.9,8.6,2.7,8.9,2.1,9.2,2.6,9.5,2.0,9.8,2.5,10.1,2.1,10.4,2.9,10.7,2.3,11.0,2.7,11.3,2.1,11.6,2.6],
[9.5,1.9,9.8,2.4,10.1,1.8,10.4,2.2,10.7,1.6,11.0,2.1,11.3,1.7,11.6,2.4,11.9,1.9,12.2,2.3,12.5,1.7,12.8,2.2,13.1,1.8,13.4,2.5,13.7,2.0,14.0,2.4,14.3,1.9,14.6,2.3],
[12.5,2.1,12.8,2.7,13.1,2.2,13.4,3.0,13.7,2.4,14.0,2.8,14.3,2.2,14.6,2.7,14.9,2.1,15.2,2.6,15.5,2.2,15.8,3.0,16.1,2.5,16.4,2.8,16.7,2.2,17.0,2.7,17.3,2.3,17.6,3.1,17.9,2.6,18.2,2.9,18.5,2.3],
[15.5,1.7,15.8,2.3,16.1,1.8,16.4,2.1,16.7,1.6,17.0,2.2,17.3,1.8,17.6,2.4,17.9,1.9,18.2,2.2,18.5,1.6,18.8,2.1,19.1,1.7,19.4,2.4,19.7,1.9,20.0,2.2,20.3,1.7,20.6,2.1,20.9,1.8],
[17.5,2.6,17.8,3.2,18.1,2.7,18.4,3.0,18.7,2.4,19.0,2.9,19.3,2.5,19.6,3.2,19.9,2.7,20.2,3.0,20.5,2.4,20.8,2.9,21.0,2.6],
[0,1.9,0.1,2.5,0.2,1.8,0.3,2.2,0.4,1.6,0.5,2.1,0.6,1.4,0.7,1.9,0.8,1.5,0.95,2.2,1.1,1.7,1.25,2.1,1.4,1.5,1.6,1.9,1.8,1.3,2.0,1.8],
[1.5,2.3,1.7,2.9,1.9,2.2,2.1,2.6,2.3,2.0,2.5,2.7,2.7,2.2,2.9,2.5,3.1,1.9,3.3,2.4,3.5,1.8,3.7,2.3,3.9,1.7,4.1,2.2,4.3,1.8,4.5,2.5,4.7,2.0,4.9,2.3,5.1,1.7,5.3,2.1],
[5.5,2.4,5.8,3.0,6.1,2.3,6.4,2.7,6.7,2.2,7.0,2.9,7.3,2.4,7.6,3.2,7.9,2.5,8.2,2.9,8.5,2.3,8.8,2.8,9.1,2.4,9.4,3.0,9.7,2.6,10.0,3.3,10.3,2.7,10.6,3.0],
[10.5,1.5,10.8,2.0,11.1,1.6,11.4,2.2,11.7,1.7,12.0,2.1,12.3,1.5,12.6,1.9,12.9,1.4,13.2,2.0,13.5,1.6,13.8,2.2,14.1,1.7,14.4,2.0,14.7,1.5,15.0,1.9,15.3,1.5],
[13.5,2.3,13.8,2.8,14.1,2.2,14.4,2.6,14.7,2.0,15.0,2.5,15.3,2.1,15.6,2.8,15.9,2.3,16.2,2.6,16.5,2.0,16.8,2.5,17.1,2.1,17.4,2.7,17.7,2.2,18.0,2.6,18.3,2.1,18.6,2.5,18.9,2.0,19.2,2.6,19.5,2.2,19.8,2.8,20.1,2.3,20.4,2.7,20.7,2.2,21.0,2.5],
[19.0,1.3,19.3,1.9,19.6,1.5,19.9,2.1,20.2,1.6,20.5,2.2,20.8,1.7,21.0,2.0],
[7.5,1.1,7.8,1.5,8.1,1.0,8.4,1.6,8.7,1.2,9.0,1.8,9.3,1.3,9.6,1.7,9.9,1.2,10.2,1.6,10.5,1.1],
[0,2.2,0.1,3.0,0.2,2.1,0.3,2.7,0.4,2.0,0.5,2.5,0.6,3.1,0.7,2.3,0.8,2.8,0.9,2.1,1.0,2.6,1.1,2.0],
[16.5,2.5,16.8,3.1,17.1,2.6,17.4,3.4,17.7,2.8,18.0,3.2,18.3,2.6,18.6,3.1,18.9,2.7,19.2,3.4,19.5,2.8,19.8,3.1,20.1,2.5,20.4,3.0,20.7,2.6,21.0,3.2]
];

// ---------- build figure ----------
const FONT = "Liberation Sans, Arial, Helvetica, sans-serif";
const W = 1258, H = 576;
const xDomains = [[61/W, 434/W], [444/W, 817/W], [826/W, 1199/W]];
const yDomain = [1 - 519/H, 1 - 91/H];
const stripTop = 1 - 47/H;
const xRange = [-1.05, 22.0];
const yRange = [-0.193, 4.163];
const GRAY = '#c9c9c9';

function grayTrace(trajs, xa, ya, symbol) {
  const x = [], y = [];
  trajs.forEach(t => {
    for (let i = 0; i < t.length; i += 2) { x.push(t[i]); y.push(t[i + 1]); }
    x.push(null); y.push(null);
  });
  return {type: 'scatter', mode: 'lines+markers', x, y, xaxis: xa, yaxis: ya,
    line: {color: GRAY, width: 1.0},
    marker: {color: GRAY, size: 3, symbol},
    connectgaps: false, hoverinfo: 'skip', showlegend: false};
}
function bandTrace(lo, hi, xa, ya) {
  return {type: 'scatter', mode: 'lines', x: days.concat(days.slice().reverse()),
    y: hi.concat(lo.slice().reverse()), fill: 'toself',
    fillcolor: 'rgba(255,192,203,0.8)', line: {width: 0, shape: 'spline'},
    xaxis: xa, yaxis: ya, hoverinfo: 'skip', showlegend: false};
}
function fitTrace(fit, xa, ya) {
  return {type: 'scatter', mode: 'lines', x: days, y: fit,
    line: {color: '#ff0000', width: 1.8, shape: 'spline'},
    xaxis: xa, yaxis: ya, hoverinfo: 'skip', showlegend: false};
}

const data = [
  grayTrace(trajNoBPD, 'x', 'y', 'circle'),
  grayTrace(trajLow, 'x2', 'y2', 'triangle-up'),
  grayTrace(trajHigh, 'x3', 'y3', 'square'),
  bandTrace(loNoBPD, hiNoBPD, 'x', 'y'),
  bandTrace(loLow, hiLow, 'x2', 'y2'),
  bandTrace(loHigh, hiHigh, 'x3', 'y3'),
  fitTrace(fitNoBPD, 'x', 'y'),
  fitTrace(fitLow, 'x2', 'y2'),
  fitTrace(fitHigh, 'x3', 'y3'),
  // same fitted curve on the back-transformed secondary axis (invisible); keeps the right axis drawn
  {type: 'scatter', mode: 'lines', x: days, y: fitHigh.map(Math.exp), xaxis: 'x3', yaxis: 'y4',
   line: {width: 0, color: 'rgba(0,0,0,0)'}, opacity: 0, hoverinfo: 'skip', showlegend: false}
];

const TICKFONT = {family: FONT, size: 19, color: '#000'};
function xAxis(i, anchor) {
  return {domain: xDomains[i], anchor, range: xRange, tickmode: 'array', tickvals: xTicks,
    ticks: 'outside', ticklen: 4, tickwidth: 1, tickcolor: '#333333', tickfont: TICKFONT,
    showgrid: true, gridcolor: '#ebebeb', gridwidth: 1.1, zeroline: false, showline: false,
    minor: {tickmode: 'array', tickvals: [3.5, 10.5, 17.5], showgrid: true, gridcolor: '#ebebeb', gridwidth: 0.6, ticks: ''},
    fixedrange: true};
}
function yAxis(anchor, labels) {
  return {domain: yDomain, anchor, range: yRange, tickmode: 'array', tickvals: yTicksLog,
    ticks: labels ? 'outside' : '', ticklen: 4, tickwidth: 1, tickcolor: '#333333',
    showticklabels: labels, tickfont: TICKFONT,
    showgrid: true, gridcolor: '#ebebeb', gridwidth: 1.1, zeroline: false, showline: false,
    minor: {tickmode: 'array', tickvals: [0.5, 1.5, 2.5, 3.5], showgrid: true, gridcolor: '#ebebeb', gridwidth: 0.6, ticks: ''},
    fixedrange: true};
}

const shapes = [];
const annotations = [];
xDomains.forEach((d, i) => {
  shapes.push({type: 'rect', xref: 'paper', yref: 'paper', x0: d[0], x1: d[1], y0: yDomain[0], y1: yDomain[1],
    line: {color: '#333333', width: 1.2}, fillcolor: 'rgba(0,0,0,0)', layer: 'above'});
  shapes.push({type: 'rect', xref: 'paper', yref: 'paper', x0: d[0], x1: d[1], y0: yDomain[1], y1: stripTop,
    line: {color: '#333333', width: 1.2}, fillcolor: '#ffffff', layer: 'above'});
  annotations.push({xref: 'paper', yref: 'paper', x: (d[0] + d[1]) / 2, y: (yDomain[1] + stripTop) / 2,
    text: panelNames[i], showarrow: false, xanchor: 'center', yanchor: 'middle',
    font: {family: FONT, size: 23, color: '#1a1a1a'}});
});
annotations.push({xref: 'paper', yref: 'paper', x: 630/W, y: 1 - 23/H, text: 'Oxygenation index trajectories in the first 21 days of life',
  showarrow: false, xanchor: 'center', yanchor: 'middle', font: {family: FONT, size: 23.5, color: '#000'}});
annotations.push({xref: 'paper', yref: 'paper', x: 630/W, y: 1 - 565/H, text: 'Day of life',
  showarrow: false, xanchor: 'center', yanchor: 'middle', font: {family: FONT, size: 20, color: '#000'}});
annotations.push({xref: 'paper', yref: 'paper', x: 19/W, y: 1 - 307/H, text: 'Predicted log\u2212transformed oxygenation index',
  textangle: -90, showarrow: false, xanchor: 'center', yanchor: 'middle', font: {family: FONT, size: 20.5, color: '#000'}});
annotations.push({xref: 'paper', yref: 'paper', x: 1243/W, y: 1 - 306/H, text: 'Predicted oxygenation index',
  textangle: 90, showarrow: false, xanchor: 'center', yanchor: 'middle', font: {family: FONT, size: 20.5, color: '#000'}});

const layout = {
  width: W, height: H, margin: {l: 0, r: 0, t: 0, b: 0, pad: 0},
  paper_bgcolor: '#ffffff', plot_bgcolor: '#ffffff', showlegend: false,
  font: {family: FONT},
  xaxis: xAxis(0, 'y'), xaxis2: xAxis(1, 'y2'), xaxis3: xAxis(2, 'y3'),
  yaxis: yAxis('x', true), yaxis2: yAxis('x2', false), yaxis3: yAxis('x3', false),
  yaxis4: {overlaying: 'y3', anchor: 'x3', side: 'right', type: 'log',
    range: [yRange[0] / Math.LN10, yRange[1] / Math.LN10],
    tickmode: 'array', tickvals: yTicksOI, ticktext: yTicksOI.map(String),
    ticks: 'outside', ticklen: 4, tickwidth: 1, tickcolor: '#333333', tickfont: TICKFONT,
    showgrid: false, zeroline: false, showline: false, fixedrange: true},
  shapes, annotations
};

Plotly.newPlot('chart', data, layout, {displayModeBar: false, staticPlot: true});
</script>
</body></html>
